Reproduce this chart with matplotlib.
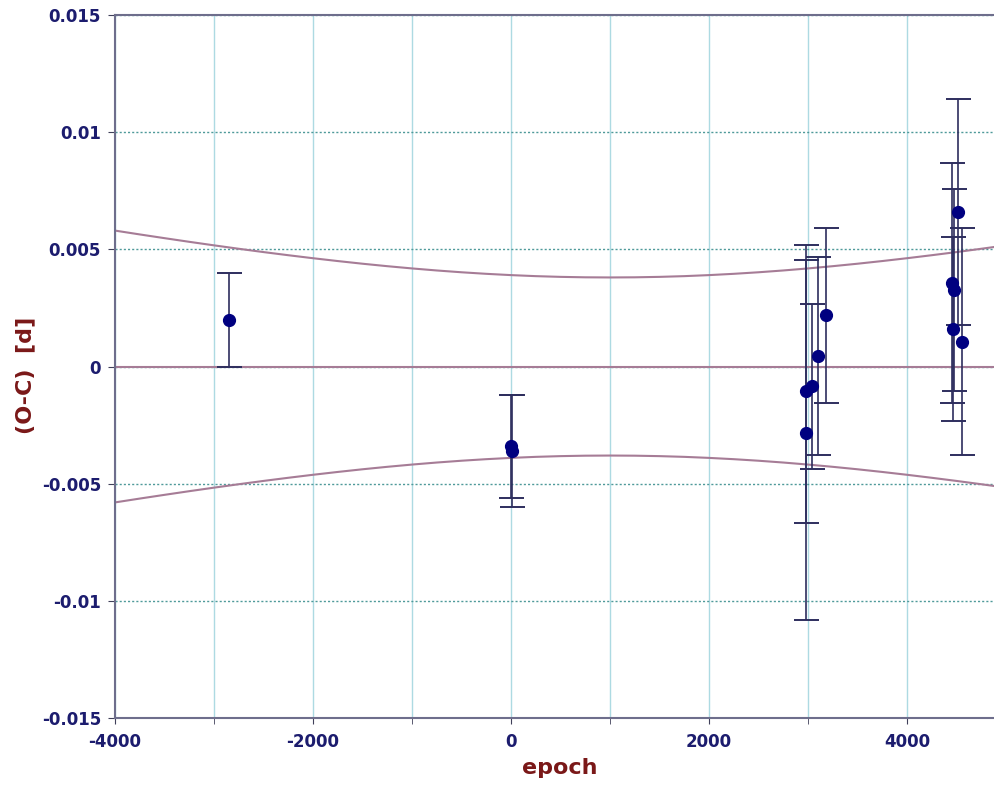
import matplotlib.pyplot as plt
from matplotlib.ticker import FixedLocator, MultipleLocator

# --- O-C data ---
epoch = [-2848, 0, 10, 2975, 2980, 3043, 3104, 3182, 4450, 4467, 4474, 4512, 4553]
oc = [0.0020, -0.0034, -0.0036, -0.00105, -0.00283, -0.00084, 0.00044, 0.00218,
      0.00357, 0.00159, 0.00326, 0.00658, 0.00106]
oc_err = [0.0020, 0.0022, 0.0024, 0.00561, 0.0080, 0.00352, 0.00423, 0.00373,
          0.00511, 0.00392, 0.00431, 0.00483, 0.00485]

# fitted line (zero) and its confidence band, read every 250 epochs
band_x = [-4000, -3750, -3500, -3250, -3000, -2750, -2500, -2250, -2000, -1750,
          -1500, -1250, -1000, -750, -500, -250, 0, 250, 500, 750, 1000, 1250,
          1500, 1750, 2000, 2250, 2500, 2750, 3000, 3250, 3500, 3750, 4000, 4250,
          4500, 4750, 4880]
band_upper = [0.00580, 0.005636, 0.005477, 0.005321, 0.005170, 0.005024, 0.004883,
              0.004749, 0.004621, 0.004500, 0.004386, 0.004281, 0.004185, 0.004098,
              0.004021, 0.003955, 0.003900, 0.003856, 0.003825, 0.003806, 0.003800,
              0.003806, 0.003825, 0.003856, 0.003900, 0.003955, 0.004021, 0.004098,
              0.004185, 0.004281, 0.004386, 0.004500, 0.004621, 0.004749, 0.004883,
              0.005024, 0.005099]
band_lower = [-v for v in band_upper]

y_ticks = [-0.015, -0.01, -0.005, 0, 0.005, 0.01, 0.015]
y_tick_labels = ['-0.015', '-0.01', '-0.005', '0', '0.005', '0.01', '0.015']

NAVY = '#1c1c6e'
DARKRED = '#7a1818'
MAUVE = '#a67c96'

plt.rcParams['font.family'] = ['DejaVu Sans']
plt.rcParams['axes.unicode_minus'] = False

fig = plt.figure(figsize=(9.94, 7.85), dpi=100)
ax = fig.add_axes([115 / 994, 67 / 785, 1 - 115 / 994, 703 / 785])

ax.set_xlim(-4000, 4879)
ax.set_ylim(-0.015, 0.015)

# grid
ax.xaxis.set_major_locator(MultipleLocator(2000))
ax.xaxis.set_minor_locator(MultipleLocator(1000))
ax.yaxis.set_major_locator(FixedLocator(y_ticks))
ax.set_yticklabels(y_tick_labels)
ax.grid(which='both', axis='x', color='#addae2', linewidth=1.0, linestyle='-')
ax.grid(which='major', axis='y', color='#4f9a9a', linewidth=1.0, linestyle=(0, (1.5, 1.5)))
ax.set_axisbelow(True)

# fit line and band
ax.plot([band_x[0], band_x[-1]], [0, 0], color=MAUVE, linewidth=1.5, zorder=2)
ax.plot(band_x, band_upper, color=MAUVE, linewidth=1.5, zorder=2)
ax.plot(band_x, band_lower, color=MAUVE, linewidth=1.5, zorder=2)

# data points with error bars
ax.errorbar(epoch, oc, yerr=oc_err, fmt='o', color='#000080', markersize=8.5,
            ecolor='#2e2e5e', elinewidth=1.2, capsize=9, capthick=1.4, zorder=3)

# spines and ticks
for side in ['left', 'bottom', 'top']:
    ax.spines[side].set_color('#6e6e8c')
    ax.spines[side].set_linewidth(1.5)
ax.spines['right'].set_visible(False)

ax.tick_params(axis='both', which='both', direction='out', color='#40405a',
               labelcolor=NAVY, labelsize=12)
ax.tick_params(axis='x', which='both', length=4.5, pad=6)
ax.tick_params(axis='y', which='major', length=5, pad=5)
for lbl in ax.get_xticklabels() + ax.get_yticklabels():
    lbl.set_fontweight('bold')

fig.text(560 / 994, 1 - 768 / 785, 'epoch', color=DARKRED, fontsize=16,
         fontweight='bold', ha='center', va='center')
fig.text(25 / 994, 1 - 375 / 785, '(O-C)  [d]', color=DARKRED, fontsize=16,
         fontweight='bold', ha='center', va='center', rotation=90)

fig.savefig('out.png', dpi=100)
